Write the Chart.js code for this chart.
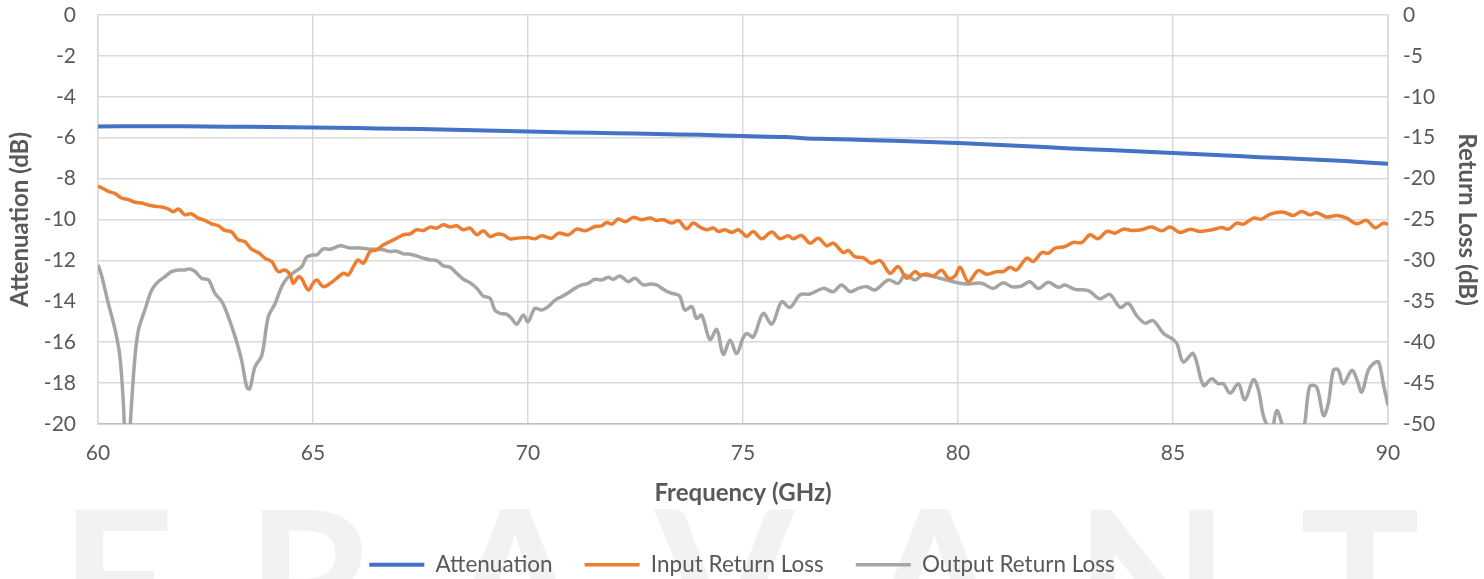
<!DOCTYPE html>
<html>
<head>
<meta charset="utf-8">
<script src="https://cdn.jsdelivr.net/npm/chart.js@4.4.1/dist/chart.umd.min.js"></script>
<style>
  html, body { margin: 0; padding: 0; background: #fff; overflow: hidden; }
  #wrap { position: relative; width: 1484px; height: 579px; overflow: hidden; }
  #mark { position: absolute; left: 60px; top: 477px; width: 1360px; display: flex; justify-content: space-between;
          font-family: Lato, sans-serif; font-weight: 700; font-size: 200px; line-height: 1; color: #f2f2f2; }
  canvas { position: absolute; left: 0; top: 0; }
</style>
</head>
<body>
<div id="wrap">
  <div id="mark"><span>E</span><span>R</span><span>A</span><span>V</span><span>A</span><span>N</span><span>T</span></div>
  <canvas id="myChart" width="1484" height="579"></canvas>
</div>
<script>
// values
var attFreq = [60, 61, 62, 63, 64, 65, 66, 67, 68, 69, 70, 71, 72, 73, 74, 75, 76, 76.5, 77, 78, 79, 80, 81, 82, 83, 84, 85, 86, 87, 88, 89, 90];
var attenuation = [-5.45, -5.44, -5.44, -5.46, -5.48, -5.5, -5.53, -5.56, -5.6, -5.65, -5.7, -5.74, -5.78, -5.82, -5.86, -5.92, -5.97, -6.04, -6.06, -6.12, -6.18, -6.26, -6.36, -6.46, -6.56, -6.65, -6.75, -6.85, -6.95, -7.04, -7.14, -7.28];

var inFreq = [60, 60.24, 60.4, 60.55, 60.71, 60.86, 61.02, 61.17, 61.33, 61.48, 61.64, 61.75, 61.87, 62.02, 62.17, 62.33, 62.48, 62.64, 62.8, 62.95,
  63.1, 63.26, 63.41, 63.57, 63.73, 63.88, 64.04, 64.19, 64.35, 64.47, 64.54, 64.66, 64.73, 64.89, 65.0, 65.09, 65.24, 65.4, 65.55, 65.71,
  65.82, 65.94, 66.05, 66.17, 66.33, 66.48, 66.64, 66.79, 66.95, 67.1, 67.26, 67.41, 67.57, 67.72, 67.88, 68.03, 68.19, 68.34, 68.5, 68.65,
  68.81, 68.96, 69.12, 69.27, 69.43, 69.58, 69.74, 70.0, 70.16, 70.32, 70.55, 70.71, 70.94, 71.13, 71.33, 71.56, 71.71, 71.83, 71.95, 72.1,
  72.26, 72.45, 72.64, 72.84, 72.99, 73.15, 73.34, 73.5, 73.69, 73.84, 74.0, 74.16, 74.31, 74.43, 74.58, 74.74, 74.89, 75.0, 75.09, 75.24,
  75.43, 75.67, 75.86, 76.05, 76.17, 76.36, 76.56, 76.75, 76.95, 77.1, 77.33, 77.45, 77.6, 77.8, 77.99, 78.19, 78.42, 78.61, 78.81, 79.0,
  79.12, 79.27, 79.43, 79.62, 79.78, 79.93, 80.05, 80.24, 80.47, 80.67, 80.9, 81.05, 81.21, 81.36, 81.6, 81.75, 81.95, 82.1, 82.26, 82.49,
  82.68, 82.88, 83.07, 83.26, 83.46, 83.65, 83.84, 84.04, 84.27, 84.5, 84.74, 84.93, 85.16, 85.4, 85.63, 85.9, 86.13, 86.29, 86.48, 86.64,
  86.87, 87.06, 87.26, 87.57, 87.8, 87.99, 88.18, 88.34, 88.57, 88.81, 89.04, 89.27, 89.5, 89.7, 89.89, 90.0];
var inputRL = [-20.9, -21.55, -21.84, -22.37, -22.58, -22.9, -22.99, -23.23, -23.39, -23.48, -23.72, -24.05, -23.72, -24.42, -24.29, -24.83, -25.11, -25.52, -25.77, -26.34,
  -26.5, -27.48, -27.69, -28.63, -29.04, -29.73, -30.14, -31.37, -31.17, -31.78, -32.8, -31.99, -32.19, -33.62, -32.8, -32.39, -33.21, -32.8, -32.19, -31.57,
  -31.78, -30.76, -29.94, -30.35, -28.92, -28.71, -28.1, -27.69, -27.28, -26.87, -26.75, -26.26, -26.34, -25.93, -26.05, -25.64, -25.93, -25.77, -26.26, -26.05,
  -26.87, -26.38, -27.08, -26.79, -26.87, -27.36, -27.28, -27.2, -27.36, -26.99, -27.28, -26.67, -26.87, -26.18, -26.38, -25.85, -25.77, -25.36, -25.56, -24.95,
  -25.28, -24.74, -25.03, -24.83, -25.11, -25.03, -25.44, -25.15, -26.14, -25.44, -25.93, -26.26, -26.05, -26.46, -26.26, -26.58, -26.26, -26.7, -27.08, -26.46,
  -27.36, -26.54, -27.36, -26.99, -27.36, -26.95, -27.89, -27.28, -28.22, -27.89, -29.04, -28.79, -29.53, -29.69, -30.35, -30.02, -31.57, -30.76, -32.19, -31.37,
  -31.78, -31.66, -31.9, -31.2, -32.19, -31.9, -30.84, -32.6, -31.25, -31.7, -31.37, -31.37, -30.84, -31.17, -29.73, -30.14, -29.04, -29.12, -28.51, -28.3,
  -27.81, -27.81, -26.87, -27.36, -26.46, -26.67, -26.18, -26.34, -26.26, -25.93, -26.38, -25.93, -26.58, -26.18, -26.46, -26.26, -25.97, -26.18, -25.44, -25.56,
  -24.83, -24.95, -24.34, -24.1, -24.52, -24.01, -24.42, -24.17, -24.7, -24.5, -24.83, -25.52, -25.11, -26.01, -25.44, -25.6];

var outFreq = [60, 60.09, 60.24, 60.4, 60.51, 60.59, 60.67, 60.78, 60.86, 60.94, 61.09, 61.25, 61.4, 61.56, 61.71, 61.87, 62.02, 62.14, 62.26, 62.41,
  62.57, 62.72, 62.88, 63.03, 63.19, 63.34, 63.46, 63.53, 63.65, 63.81, 63.96, 64.12, 64.27, 64.43, 64.58, 64.74, 64.85, 65.0, 65.09, 65.24,
  65.4, 65.63, 65.86, 66.09, 66.33, 66.48, 66.64, 66.79, 66.95, 67.1, 67.26, 67.41, 67.57, 67.72, 67.88, 68.03, 68.19, 68.34, 68.5, 68.65,
  68.81, 68.96, 69.12, 69.23, 69.35, 69.5, 69.62, 69.74, 69.89, 70.0, 70.16, 70.32, 70.47, 70.63, 70.78, 70.94, 71.09, 71.25, 71.4, 71.56,
  71.71, 71.87, 71.98, 72.14, 72.33, 72.49, 72.68, 72.84, 72.99, 73.15, 73.3, 73.42, 73.53, 73.65, 73.81, 73.92, 74.04, 74.23, 74.39, 74.54,
  74.7, 74.85, 75.0, 75.09, 75.24, 75.47, 75.67, 75.9, 76.09, 76.33, 76.56, 76.87, 77.1, 77.29, 77.49, 77.68, 77.88, 78.07, 78.38, 78.61,
  78.77, 79.0, 79.19, 79.58, 80.05, 80.24, 80.55, 80.82, 81.05, 81.25, 81.48, 81.67, 81.87, 82.1, 82.33, 82.49, 82.72, 83.03, 83.3, 83.53,
  83.77, 83.96, 84.16, 84.35, 84.54, 84.78, 84.97, 85.09, 85.24, 85.47, 85.71, 85.9, 86.05, 86.17, 86.33, 86.52, 86.67, 86.87, 86.98, 87.1,
  87.22, 87.29, 87.41, 87.57, 87.72, 87.88, 88.03, 88.18, 88.34, 88.5, 88.61, 88.73, 88.84, 88.96, 89.16, 89.27, 89.39, 89.54, 89.66, 89.78,
  89.89, 90.0];
var outputRL = [-30.55, -31.98, -35.26, -38.53, -41.8, -47.5, -56, -47.5, -41.8, -38.53, -36.07, -33.62, -32.6, -31.98, -31.37, -31.17, -31.17, -31.04, -31.37, -32.19,
  -32.39, -34.03, -35.05, -36.89, -39.35, -42.21, -45.48, -45.69, -43.03, -41.6, -36.89, -35.26, -33.21, -31.98, -31.37, -30.76, -29.61, -29.33, -29.33, -28.59,
  -28.63, -28.22, -28.47, -28.47, -28.63, -28.63, -28.71, -28.92, -28.87, -29.2, -29.24, -29.45, -29.73, -29.94, -30.02, -30.67, -30.84, -31.57, -32.31, -32.72,
  -33.42, -34.36, -34.64, -36.07, -36.48, -36.56, -37.1, -37.79, -36.69, -37.5, -35.87, -36.07, -35.66, -34.85, -34.44, -33.95, -33.42, -33.0, -32.8, -32.31,
  -32.39, -32.07, -32.31, -31.9, -32.6, -32.19, -33.0, -32.88, -33.0, -33.54, -33.95, -34.11, -34.36, -36.07, -35.66, -37.1, -36.69, -39.67, -38.45, -41.47,
  -39.75, -41.39, -39.5, -38.94, -39.35, -36.48, -37.79, -35.05, -35.75, -34.2, -34.11, -33.42, -33.83, -33.0, -33.83, -33.42, -33.21, -33.62, -32.39, -32.8,
  -31.78, -32.39, -31.78, -32.19, -32.8, -32.88, -32.8, -33.42, -32.72, -33.21, -33.13, -32.6, -33.42, -32.68, -33.29, -33.0, -33.54, -33.7, -34.69, -34.15,
  -35.75, -35.26, -36.78, -37.67, -37.38, -38.94, -39.55, -40.16, -42.41, -41.39, -45.28, -44.46, -45.07, -45.07, -46.22, -45.07, -47.03, -44.58, -45.69, -48.96,
  -50.6, -51.5, -48.36, -50.5, -52, -51, -50.8, -45.4, -45.48, -48.96, -47.5, -43.44, -43.36, -45.07, -43.44, -44.46, -46.1, -43.44, -42.62, -42.41,
  -45.07, -47.73];

function pts(xs, ys) {
    return xs.map(function(x, i) { return {x: x, y: ys[i]}; });
}

var txt = '#595959';
var gridCol = '#d9d9d9';
var font = 'Lato, sans-serif';

// nudge legend down a little so it sits on the bottom edge like the original
var legendShift = {
    id: 'legendShift',
    afterUpdate: function(chart) {
        chart.legend.top += 7;
        chart.legend.bottom += 7;
    }
};

var ctx = document.getElementById('myChart').getContext('2d');
var myChart = new Chart(ctx, {
    type: 'line',
    data: {
        datasets: [{
            label: 'Attenuation',
            data: pts(attFreq, attenuation),
            yAxisID: 'yL',
            borderColor: '#4472C4',
            backgroundColor: '#4472C4',
            borderWidth: 4,
            tension: 0.3
        }, {
            label: 'Input Return Loss',
            data: pts(inFreq, inputRL),
            yAxisID: 'yR',
            borderColor: '#ED7D31',
            backgroundColor: '#ED7D31',
            borderWidth: 3.5,
            tension: 0.35
        }, {
            label: 'Output Return Loss',
            data: pts(outFreq, outputRL),
            yAxisID: 'yR',
            borderColor: '#A5A5A5',
            backgroundColor: '#A5A5A5',
            borderWidth: 3.5,
            tension: 0.35
        }]
    },
    options: {
        responsive: false,
        animation: false,
        events: [],
        elements: { point: { radius: 0 } },
        layout: { padding: { top: 15, left: 0, right: 0, bottom: 0 } },
        scales: {
            x: {
                type: 'linear',
                min: 60,
                max: 90,
                ticks: { stepSize: 5, color: txt, font: { family: font, size: 21 }, padding: 17 },
                grid: { color: gridCol, lineWidth: 1.5, drawTicks: false },
                border: { color: '#bfbfbf', width: 1.5 },
                title: { display: true, text: 'Frequency (GHz)', color: txt, font: { family: font, size: 24, weight: 'bold' }, padding: { top: 0, bottom: 7 } },
                afterFit: function(s) { s.height = 90.5; }
            },
            yL: {
                position: 'left',
                min: -20,
                max: 0,
                ticks: { stepSize: 2, color: txt, font: { family: font, size: 21 }, padding: 2 },
                grid: { color: gridCol, lineWidth: 1.5, drawTicks: true, tickLength: 20, tickColor: 'rgba(0,0,0,0)' },
                border: { color: gridCol, width: 1.5 },
                title: { display: true, text: 'Attenuation (dB)', color: txt, font: { family: font, size: 24, weight: 'bold' }, padding: { top: 5.5, bottom: 0 } },
                afterFit: function(s) { s.width = 98; }
            },
            yR: {
                position: 'right',
                min: -50,
                max: 0,
                ticks: { stepSize: 5, color: txt, font: { family: font, size: 21 }, padding: 2 },
                grid: { display: true, drawOnChartArea: false, drawTicks: true, tickLength: 13, tickColor: 'rgba(0,0,0,0)' },
                border: { color: gridCol, width: 1.5 },
                title: { display: true, text: 'Return Loss (dB)', color: txt, font: { family: font, size: 24, weight: 'bold' }, padding: { top: 2.5, bottom: 0 } },
                afterFit: function(s) { s.width = 96; }
            }
        },
        plugins: {
            legend: {
                position: 'bottom',
                labels: {
                    usePointStyle: true,
                    pointStyle: 'line',
                    pointStyleWidth: 55,
                    color: txt,
                    font: { family: font, size: 22.5 },
                    padding: 32
                }
            },
            tooltip: { enabled: false }
        }
    },
    plugins: [legendShift]
});
</script>
</body>
</html>
